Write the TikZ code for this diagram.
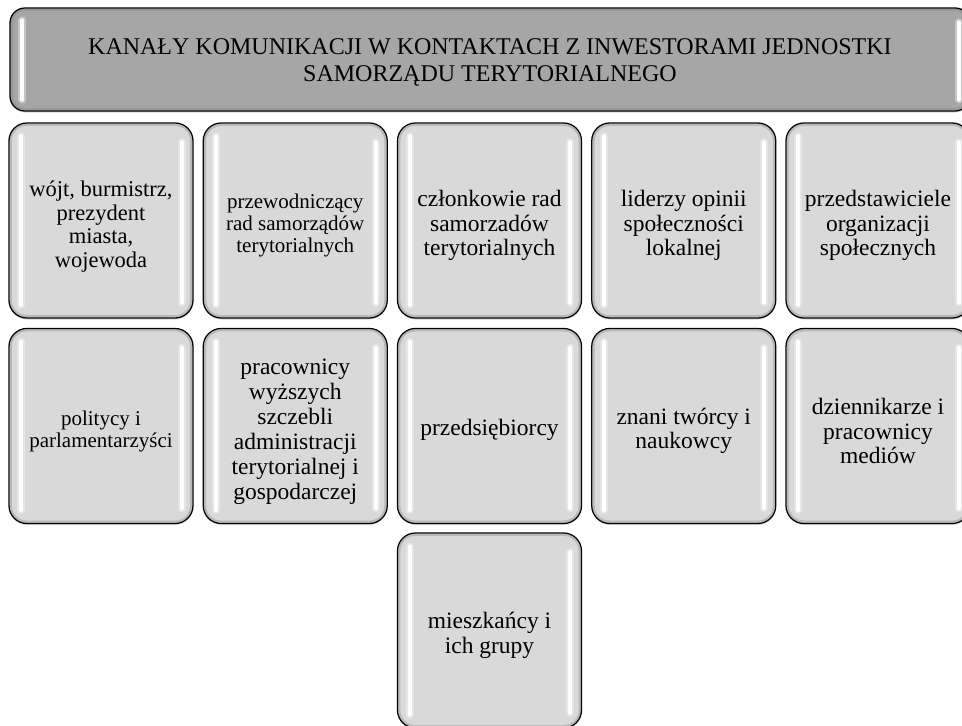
\documentclass[tikz,border=0pt]{standalone}
\usepackage{fontspec}
\setmainfont{Liberation Serif}
\usetikzlibrary{calc,shadows}
\definecolor{headgray}{HTML}{A6A6A6}
\definecolor{cellgray}{HTML}{D9D9D9}
\tikzset{
  panel/.style={draw=black, line width=1.3pt, inner sep=0pt,
    drop shadow={shadow xshift=0pt, shadow yshift=-1.5pt, opacity=0.3}},
  headbox/.style={panel, fill=headgray, rounded corners=15pt,
    minimum width=960pt, minimum height=103pt},
  cell/.style={panel, fill=cellgray, rounded corners=18pt,
    minimum width=184pt, minimum height=195pt},
  label text/.style={text=black, align=center, inner sep=0pt},
  headtxt/.style={label text, font=\fontsize{24}{26.5}\selectfont},
  celltxt/.style={label text, font=\fontsize{23.5}{24.3}\selectfont},
  smalltxt/.style={label text, font=\fontsize{21}{22}\selectfont},
  rim/.style={draw=black!50, line width=2.4pt, opacity=0.35},
  gloss/.style={draw=white, line width=4pt, line cap=round},
  glosshalo/.style={draw=white, line width=8pt, line cap=round, opacity=0.35},
}
\begin{document}
\begin{tikzpicture}[x=1pt,y=-1pt]
\useasboundingbox (0,0) rectangle (962,726);
\begin{scope}
\clip (0,0) rectangle (962,726);

% title bar
\node[headbox] (h) at (490,59.5) {};

% rounded panels
\node[cell] (a1) at (101,220.5) {};
\node[cell] (a2) at (295.25,220.5) {};
\node[cell] (a3) at (489.5,220.5) {};
\node[cell] (a4) at (683.75,220.5) {};
\node[cell] (a5) at (878,220.5) {};
\node[cell] (b1) at (101,426) {};
\node[cell] (b2) at (295.25,426) {};
\node[cell] (b3) at (489.5,426) {};
\node[cell] (b4) at (683.75,426) {};
\node[cell] (b5) at (878,426) {};
\node[cell] (c3) at (489.5,630.5) {};

% inner rim and glossy side highlights
\foreach \n in {a1,a2,a3,a4,a5,b1,b2,b3,b4,b5,c3}{
  \draw[rim, rounded corners=16pt] ($(\n.north west)+(2.4,2.4)$) rectangle ($(\n.south east)+(-2.4,-2.4)$);
  \draw[glosshalo] ($(\n.north west)+(13,14)$) -- ($(\n.south west)+(13,-14)$);
  \draw[gloss] ($(\n.north west)+(13,14)$) -- ($(\n.south west)+(13,-14)$);
  \draw[glosshalo] ($(\n.north east)+(-12,20)$) -- ($(\n.south east)+(-12,-16)$);
  \draw[gloss] ($(\n.north east)+(-12,20)$) -- ($(\n.south east)+(-12,-16)$);
}
\draw[rim, rounded corners=13pt] ($(h.north west)+(2.4,2.4)$) rectangle ($(h.south east)+(-2.4,-2.4)$);
\draw[glosshalo] ($(h.north west)+(13,13)$) -- ($(h.south west)+(13,-12)$);
\draw[gloss] ($(h.north west)+(13,13)$) -- ($(h.south west)+(13,-12)$);
\draw[glosshalo] ($(h.north east)+(-12,15)$) -- ($(h.south east)+(-12,-12)$);
\draw[gloss] ($(h.north east)+(-12,15)$) -- ($(h.south east)+(-12,-12)$);

% texts
\node[headtxt] (ht) at ($(h.center)+(0,3)$)
  {KANAŁY KOMUNIKACJI W KONTAKTACH Z INWESTORAMI JEDNOSTKI\\SAMORZĄDU TERYTORIALNEGO};
\node[celltxt, font=\fontsize{22.5}{23.6}\selectfont] (a1t) at ($(a1.center)+(0,6)$)
  {wójt, burmistrz,\\prezydent\\miasta,\\wojewoda};
\node[smalltxt] (a2t) at ($(a2.center)+(0,5)$) {przewodniczący\\rad samorządów\\terytorialnych};
\node[celltxt] (a3t) at ($(a3.center)+(0,5)$) {członkowie rad\\samorzadów\\terytorialnych};
\node[celltxt] (a4t) at ($(a4.center)+(0,5)$) {liderzy opinii\\społeczności\\lokalnej};
\node[celltxt] (a5t) at ($(a5.center)+(0,5)$) {przedstawiciele\\organizacji\\społecznych};
\node[smalltxt] (b1t) at ($(b1.center)+(0,5)$) {politycy i\\parlamentarzyści};
\node[celltxt, font=\fontsize{23.5}{25}\selectfont] (b2t) at ($(b2.center)+(0,6)$)
  {pracownicy\\wyższych\\szczebli\\administracji\\terytorialnej i\\gospodarczej};
\node[celltxt] (b3t) at ($(b3.center)+(0,4)$) {przedsiębiorcy};
\node[celltxt] (b4t) at ($(b4.center)+(0,5)$) {znani twórcy i\\naukowcy};
\node[celltxt] (b5t) at ($(b5.center)+(0,5)$) {dziennikarze i\\pracownicy\\mediów};
\node[celltxt] (c3t) at ($(c3.center)+(0,5)$) {mieszkańcy i\\ich grupy};
\end{scope}
\end{tikzpicture}
\end{document}
